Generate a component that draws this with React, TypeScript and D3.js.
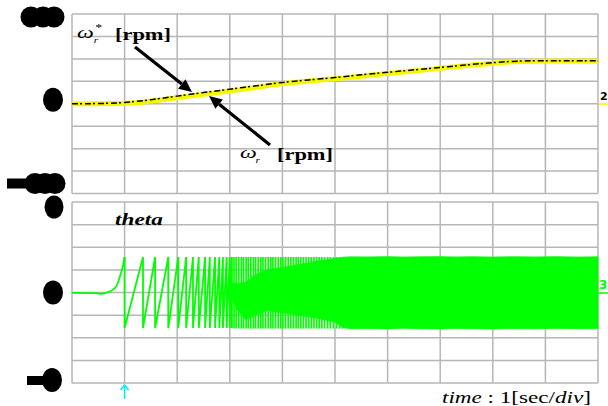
import React from 'react';
import * as d3 from 'd3';

// grid divisions (1 sec/div, 100 rpm/div, 2 rad/div)
const timeTicks = [0, 1, 2, 3, 4, 5, 6, 7, 8, 9, 10];
const speedTicks = [-400, -300, -200, -100, 0, 100, 200, 300, 400];
const thetaTicks = [-8, -6, -4, -2, 0, 2, 4, 6, 8];

// scope channel labels (rendered as blobs in the capture)
const speedLabels = [400, 0, -400];
const thetaLabels = [8, 0, -8];

// speed actual (yellow) and reference (black), rpm
const actTime = [0, 0.5, 1, 1.3, 1.67, 2, 2.43, 3, 3.5, 4, 4.5, 5, 5.5, 6, 6.5, 7, 7.5, 8, 8.5, 9, 9.5, 10];
const actSpeed = [0, 0, 2, 6, 17, 27, 40, 57, 73, 90, 101, 111, 123, 135, 146, 158, 170, 181, 188, 191, 191, 191];
const refTime = [0, 0.5, 1, 1.5, 2, 2.5, 3, 3.5, 4, 4.5, 5, 5.5, 6, 6.5, 7, 7.5, 8, 8.5, 9, 10];
const refSpeed = [0, 1, 6, 18, 34, 50, 65, 80, 95, 106, 117, 129, 140, 151, 162, 173, 183, 190, 192, 192];

// theta before the first reset, rad
const leadTime = [0, 0.4, 0.55, 0.62, 0.7, 0.78, 0.85, 0.91, 0.97, 1.0];
const leadTheta = [-0.03, -0.05, -0.12, -0.05, 0.05, 0.25, 0.6, 1.4, 2.4, 3.14];

// theta wrap-around instants (sawtooth resets), sec
const resetTimes = [1.0, 1.35, 1.58, 1.83, 2.02, 2.17, 2.3, 2.41, 2.53, 2.62, 2.72, 2.8, 2.87, 2.94, 3.0, 3.04];

// fast excursions in the transition zone, sec
const spikeTimes = [3.08, 3.12, 3.17, 3.22, 3.26, 3.31, 3.35, 3.4, 3.45, 3.49, 3.54, 3.59, 3.63, 3.68, 3.73,
  3.78, 3.82, 3.87, 3.92, 3.97, 4.01, 4.06, 4.11, 4.16, 4.21, 4.26, 4.3, 4.35, 4.4, 4.45, 4.5, 4.55,
  4.6, 4.65, 4.7, 4.75, 4.8, 4.86, 4.91, 4.97, 5.03, 5.09, 5.14];

// envelope of the dense theta band, rad
const bandTime = [3.04, 3.15, 3.3, 3.5, 3.7, 4.0, 4.3, 4.7, 5.0, 5.15, 5.3, 5.6, 6.0, 6.3, 6.6, 7.0, 7.3, 7.6, 8.0, 8.4, 8.8, 9.2, 9.6, 10.0];
const bandTop = [0.8, 0.8, 0.9, 1.6, 2.0, 2.2, 2.45, 2.8, 3.0, 3.12, 3.15, 3.14, 3.17, 3.13, 3.15, 3.17, 3.14, 3.16, 3.13, 3.16, 3.14, 3.17, 3.13, 3.15];
const bandBottom = [-0.6, -1.6, -2.4, -2.0, -1.6, -1.8, -2.0, -2.3, -2.6, -3.1, -3.2, -3.18, -3.22, -3.15, -3.2, -3.22, -3.17, -3.2, -3.23, -3.18, -3.21, -3.16, -3.2, -3.19];

const W = 608, H = 406;
const PI = 3.14;
const GRID = '#b6b6b6';
const GREEN = '#00ff00';
const YELLOW = '#f6f600';
const FONT = 'Liberation Serif, serif';

export default function App() {
  const x = d3.scaleLinear().domain([0, 10]).range([72, 598]);
  const yS = d3.scaleLinear().domain([-400, 400]).range([193.5, 14]);
  const yT = d3.scaleLinear().domain([-8, 8]).range([383, 202]);

  const speedLine = d3.line<[number, number]>()
    .x(d => x(d[0])).y(d => yS(d[1])).curve(d3.curveMonotoneX);
  const thetaCurve = d3.line<[number, number]>()
    .x(d => x(d[0])).y(d => yT(d[1])).curve(d3.curveMonotoneX);
  const thetaLine = d3.line<[number, number]>()
    .x(d => x(d[0])).y(d => yT(d[1]));

  const act = actTime.map((t, i) => [t, actSpeed[i]] as [number, number]);
  const ref = refTime.map((t, i) => [t, refSpeed[i]] as [number, number]);
  const lead = leadTime.map((t, i) => [t, leadTheta[i]] as [number, number]);

  // sawtooth: drop at each reset, ramp up to the next one
  const saw: [number, number][] = [];
  resetTimes.forEach(r => {
    saw.push([r, PI]);
    saw.push([r, -PI]);
  });

  const band = d3.area<number>()
    .x((d, i) => x(bandTime[i]))
    .y0((d, i) => yT(bandBottom[i]))
    .y1((d, i) => yT(bandTop[i]));

  const panel = (y: d3.ScaleLinear<number, number>, ticks: number[]) => (
    <g>
      {timeTicks.map(t => (
        <line key={'v' + t} x1={x(t)} x2={x(t)} y1={y.range()[1]} y2={y.range()[0]}
          stroke={GRID} strokeWidth={1.5} />
      ))}
      {ticks.map(v => (
        <line key={'h' + v} x1={x(0)} x2={x(10)} y1={y(v)} y2={y(v)}
          stroke={GRID} strokeWidth={1.5} />
      ))}
    </g>
  );

  const arrow = (x1: number, y1: number, x2: number, y2: number) => {
    const a = Math.atan2(y2 - y1, x2 - x1);
    const L = 13, w = 6;
    const bx = x2 - L * Math.cos(a), by = y2 - L * Math.sin(a);
    const p = [
      [x2, y2],
      [bx + w * Math.sin(a), by - w * Math.cos(a)],
      [bx - w * Math.sin(a), by + w * Math.cos(a)],
    ];
    return (
      <g>
        <line x1={x1} y1={y1} x2={bx} y2={by} stroke="#000" strokeWidth={3.2} />
        <polygon points={p.map(q => q.join(',')).join(' ')} fill="#000" />
      </g>
    );
  };

  return (
    <svg width={W} height={H} style={{ position: 'absolute', left: 0, top: 0, background: '#fff' }}>
      {panel(yS, speedTicks)}
      {panel(yT, thetaTicks)}

      {/* speed traces */}
      <path d={speedLine(act) || ''} fill="none" stroke={YELLOW} strokeWidth={5} />
      <path d={speedLine(ref) || ''} fill="none" stroke="#000" strokeWidth={1.5} strokeDasharray="6 2 2 3" />

      {/* theta */}
      <path d={thetaCurve(lead) || ''} fill="none" stroke={GREEN} strokeWidth={1.8} />
      <path d={thetaLine(saw) || ''} fill="none" stroke={GREEN} strokeWidth={1.8} />
      {spikeTimes.map(t => (
        <line key={t} x1={x(t)} x2={x(t)} y1={yT(PI)} y2={yT(-PI - 0.05)}
          stroke={GREEN} strokeWidth={1.7} />
      ))}
      <path d={band(bandTime) || ''} fill={GREEN} stroke={GREEN} strokeWidth={0.8} />

      {/* channel label blobs */}
      <g fill="#000">
        {[31, 43, 54].map(cx => <circle key={cx} cx={cx} cy={yS(speedLabels[0]) + 3} r={10.5} />)}
        <ellipse cx={53} cy={yS(speedLabels[1]) - 4} rx={10} ry={12} />
        <rect x={7} y={yS(speedLabels[2]) - 15} width={20} height={10} />
        {[35, 45, 55].map(cx => <circle key={cx} cx={cx} cy={yS(speedLabels[2]) - 10} r={10.5} />)}
        <ellipse cx={54} cy={yT(thetaLabels[0]) + 5} rx={9.5} ry={11.5} />
        <ellipse cx={53} cy={yT(thetaLabels[1])} rx={10} ry={12} />
        <rect x={27} y={yT(thetaLabels[2]) - 7} width={16} height={9} />
        <ellipse cx={52} cy={yT(thetaLabels[2]) - 3} rx={10} ry={12} />
      </g>

      {/* right-edge channel markers */}
      <text x={600} y={100} fontFamily="DejaVu Sans" fontWeight="bold" fontSize={11} fill="#000">2</text>
      <line x1={599} x2={608} y1={104} y2={104} stroke={YELLOW} strokeWidth={1.5} />
      <text x={599} y={289} fontFamily="DejaVu Sans" fontWeight="bold" fontSize={12} fill={GREEN}>3</text>
      <line x1={598} x2={608} y1={293} y2={293} stroke={GREEN} strokeWidth={1.5} />

      {/* annotations */}
      {arrow(135, 47, 192, 92)}
      {arrow(270, 145, 209, 96)}
      <g fontFamily={FONT} fill="#000">
        <g transform="translate(77,38) scale(1.4,1)">
          <text fontStyle="italic" fontSize={17}>ω</text>
          <text x={13} y={-7} fontSize={10}>*</text>
          <text x={12} y={5} fontStyle="italic" fontSize={8}>r</text>
        </g>
        <g transform="translate(115,40) scale(1.4,1)">
          <text fontWeight="bold" fontSize={16}>[rpm]</text>
        </g>
        <g transform="translate(240,158) scale(1.4,1)">
          <text fontStyle="italic" fontSize={17}>ω</text>
          <text x={11} y={5} fontStyle="italic" fontSize={8}>r</text>
        </g>
        <g transform="translate(277,160) scale(1.4,1)">
          <text fontWeight="bold" fontSize={16}>[rpm]</text>
        </g>
        <g transform="translate(115,225) scale(1.37,1)">
          <text fontWeight="bold" fontStyle="italic" fontSize={17}>theta</text>
        </g>
        <g transform="translate(442,403) scale(1.36,1)">
          <text fontSize={17}>
            <tspan fontStyle="italic">time</tspan>
            <tspan> : 1[sec/</tspan>
            <tspan fontStyle="italic">div</tspan>
            <tspan>]</tspan>
          </text>
        </g>
      </g>

      {/* trigger marker */}
      <g stroke="#00e8ff" strokeWidth={1.5} fill="none">
        <line x1={x(1)} x2={x(1)} y1={399} y2={385} />
        <polyline points={`${x(1) - 4},${390} ${x(1)},${385} ${x(1) + 4},${390}`} />
      </g>
    </svg>
  );
}
